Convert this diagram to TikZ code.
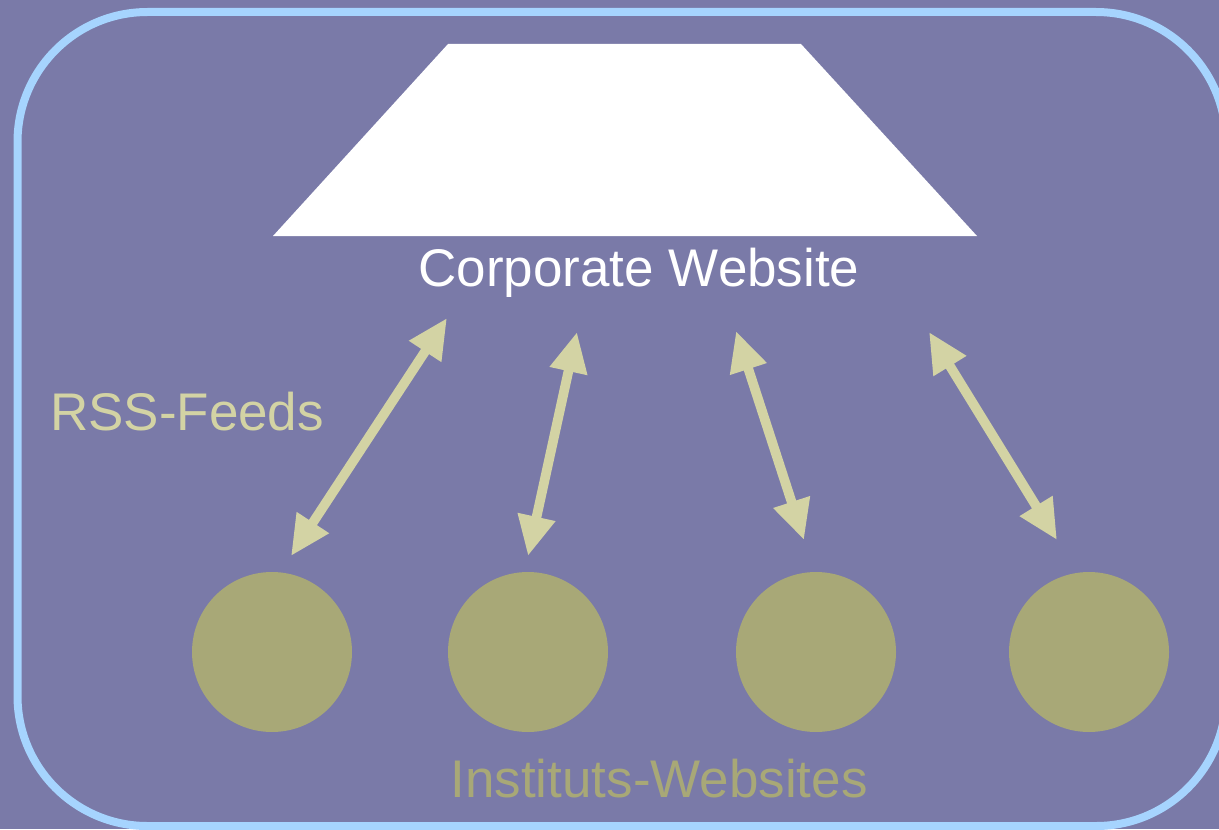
\documentclass[tikz,border=0pt]{standalone}
\usepackage{fontspec}
\setmainfont{Liberation Sans}
\usetikzlibrary{arrows.meta}
\definecolor{bg}{HTML}{7A7AA8}
\definecolor{frame}{HTML}{A6D4FE}
\definecolor{feed}{HTML}{D3D3A4}
\definecolor{site}{HTML}{A8A877}
\tikzset{
  lbl/.style={inner sep=0pt, font=\fontsize{26.5pt}{30pt}\selectfont},
  inst/.style={circle, fill=site, minimum size=80pt, inner sep=0pt},
  feedarrow/.style={draw=feed, line width=4.8pt, {Triangle[length=20pt,width=18pt]}-{Triangle[length=20pt,width=18pt]}}
}
\begin{document}
\begin{tikzpicture}[x=0.5pt,y=-0.5pt]
\fill[bg] (0,0) rectangle (1219,829);
\useasboundingbox (0,0) rectangle (1219,829);
\draw[frame, line width=4pt, rounded corners=65pt] (17.5,12) rectangle (1226,826);
\fill[white] (448,44) -- (801,44) -- (977,236) -- (273,236) -- cycle;
\node[lbl, text=white, anchor=base] (corp) at (639,286) {Corporate Website};
\node[lbl, text=feed, anchor=base] (rss) at (187,430) {RSS-Feeds};
\node[lbl, text=site, anchor=base] (inst) at (659,797) {Instituts-Websites};
\node[inst] (c1) at (272,652) {};
\node[inst] (c2) at (528,652) {};
\node[inst] (c3) at (816,652) {};
\node[inst] (c4) at (1089,652) {};
\coordinate (t1) at (447,318); \coordinate (b1) at (291,556);
\coordinate (t2) at (577,332); \coordinate (b2) at (528,556);
\coordinate (t3) at (736,331); \coordinate (b3) at (804,540);
\coordinate (t4) at (929,332); \coordinate (b4) at (1057,540);
\draw[feedarrow] (t1) -- (b1);
\draw[feedarrow] (t2) -- (b2);
\draw[feedarrow] (t3) -- (b3);
\draw[feedarrow] (t4) -- (b4);
\end{tikzpicture}
\end{document}
